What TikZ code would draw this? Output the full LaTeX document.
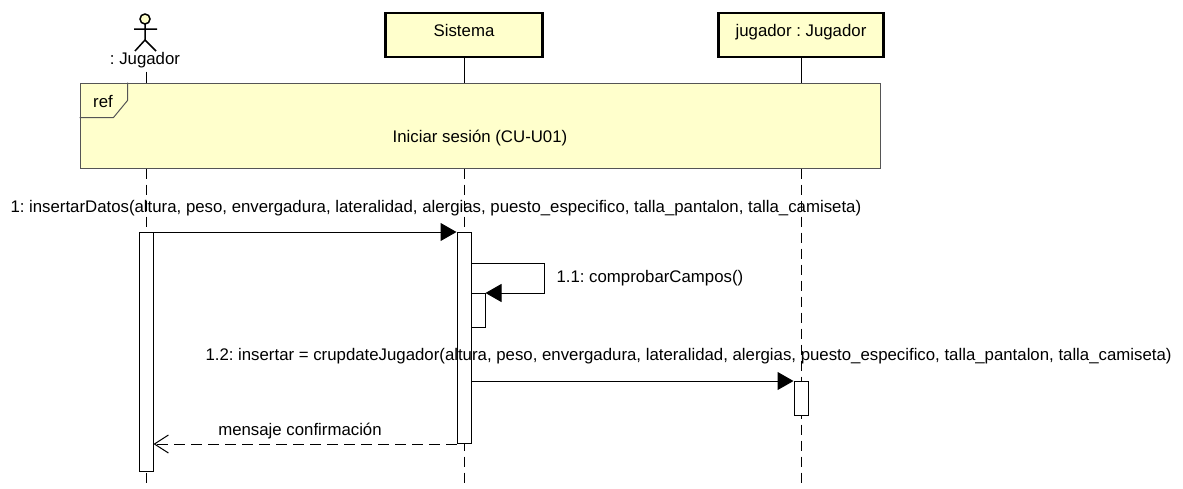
\documentclass[tikz,border=0pt]{standalone}
\usepackage{fontspec}
\setmainfont{Liberation Sans}
\usetikzlibrary{positioning, arrows.meta}
\definecolor{umlfill}{HTML}{FFFFCC}
\definecolor{framegray}{HTML}{555555}
\frenchspacing

\begin{document}
\begin{tikzpicture}[
        x=1pt,
        y=-1pt,
        line width=1pt,
        font=\fontsize{16.8}{19}\selectfont,
        obj/.style={draw, line width=2.5pt, fill=umlfill, minimum height=44pt, inner sep=0pt, text depth=9pt},
        act/.style={draw, fill=white, inner sep=0pt, minimum width=14pt, anchor=north},
        life/.style={dash pattern=on 10pt off 6pt},
        sync/.style={-{Triangle[length=16pt,width=18pt]}},
        reply/.style={dash pattern=on 11pt off 6pt, -{Straight Barb[length=14pt,width=18pt]}},
        lbl/.style={inner sep=0pt, anchor=west}
    ]
    \useasboundingbox (0,0) rectangle (1183,488);

    % actor
    \draw[fill=umlfill, line width=1.5pt] (145,19) circle (5pt);
    \draw[line width=1.5pt] (134,29) -- (157,29) (145,24) -- (145,40)
        (135,51) -- (145,40) -- (156,51);
    \node (jl) at (145,60) {: Jugador};

    % objects
    \node[obj, minimum width=157pt] (sis) at (464,35) {Sistema};
    \node[obj, minimum width=165pt] (pla) at (801,35) {jugador : Jugador};

    \coordinate (jEnd) at (146,488);
    \coordinate (sEnd) at (464,488);
    \coordinate (pEnd) at (801,488);

    % ref frame
    \node[draw=framegray, fill=umlfill, minimum width=800pt, minimum height=85pt,
        inner sep=0pt] (ref) at (480,125.5) {};
    \draw[framegray] ([yshift=-35pt]ref.north west) -- ++(34,0) -- ++(14,-17) -- ++(0,-18);
    \node (reftag) at (103,101) {ref};
    \node (refname) at (480,138) {Iniciar sesión (CU-U01)};

    % lifelines
    \draw (jl.south -| jEnd) -- (ref.north -| jEnd);
    \draw (sis.south) -- (ref.north -| sEnd);
    \draw (pla.south) -- (ref.north -| pEnd);
    \draw[life] (ref.south -| jEnd) -- (jEnd);
    \draw[life] (ref.south -| sEnd) -- (sEnd);
    \draw[life] (ref.south -| pEnd) -- (pEnd);

    % activations
    \node[act, minimum height=239pt] (actJ) at (146,232) {};
    \node[act, minimum height=211pt] (actS) at (464,232) {};
    \node[act, minimum height=34pt] (actS2) at (478,293) {};
    \node[act, minimum height=34pt] (actP) at (801,381) {};

    % messages
    \node[lbl] (m1) at (10,208) {1: insertarDatos(altura, peso, envergadura, lateralidad, alergias, puesto\_especifico, talla\_pantalon, talla\_camiseta)};
    \draw[sync] (actJ.north east) -- (actS.north west);

    \node[lbl] (m11) at (556,278) {1.1: comprobarCampos()};
    \draw[sync] (actS.east |- 0,263) -- (544,263) |- (actS2.north east);

    \node[lbl] (m12) at (205,356) {1.2: insertar = crupdateJugador(altura, peso, envergadura, lateralidad, alergias, puesto\_especifico, talla\_pantalon, talla\_camiseta)};
    \draw[sync] (actS.east |- actP.north) -- (actP.north west);

    \node (m2) at (300,431) {mensaje confirmación};
    \draw[reply] (actS.south west) -- (actJ.east |- actS.south);
\end{tikzpicture}
\end{document}
